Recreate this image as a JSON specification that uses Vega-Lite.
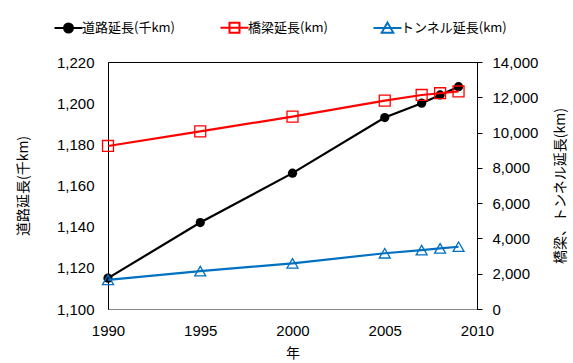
{
  "$schema": "https://vega.github.io/schema/vega-lite/v6.json",
  "width": 369,
  "height": 247,
  "autosize": {"type": "none"},
  "padding": {"left": 108, "top": 62, "right": 96, "bottom": 54},
  "background": "white",
  "config": {
    "view": {"stroke": "black", "strokeWidth": 1},
    "font": "Liberation Sans",
    "axis": {
      "labelFont": "Liberation Sans",
      "labelFontSize": 15,
      "labelColor": "black",
      "titleFont": "Noto Sans CJK JP",
      "titleFontSize": 14,
      "titleFontWeight": "normal",
      "titleColor": "#000000",
      "grid": false,
      "domainColor": "black"
    }
  },
  "data": {
    "values": [
      {"year": 1990, "series": "道路延長(千km)", "value": 1115},
      {"year": 1995, "series": "道路延長(千km)", "value": 1142},
      {"year": 2000, "series": "道路延長(千km)", "value": 1166},
      {"year": 2005, "series": "道路延長(千km)", "value": 1193},
      {"year": 2007, "series": "道路延長(千km)", "value": 1200},
      {"year": 2008, "series": "道路延長(千km)", "value": 1204},
      {"year": 2009, "series": "道路延長(千km)", "value": 1208},
      {"year": 1990, "series": "橋梁延長(km)", "value": 9240},
      {"year": 1995, "series": "橋梁延長(km)", "value": 10070},
      {"year": 2000, "series": "橋梁延長(km)", "value": 10900},
      {"year": 2005, "series": "橋梁延長(km)", "value": 11810},
      {"year": 2007, "series": "橋梁延長(km)", "value": 12130},
      {"year": 2008, "series": "橋梁延長(km)", "value": 12230},
      {"year": 2009, "series": "橋梁延長(km)", "value": 12330},
      {"year": 1990, "series": "トンネル延長(km)", "value": 1650},
      {"year": 1995, "series": "トンネル延長(km)", "value": 2150},
      {"year": 2000, "series": "トンネル延長(km)", "value": 2590},
      {"year": 2005, "series": "トンネル延長(km)", "value": 3160},
      {"year": 2007, "series": "トンネル延長(km)", "value": 3340},
      {"year": 2008, "series": "トンネル延長(km)", "value": 3440},
      {"year": 2009, "series": "トンネル延長(km)", "value": 3530}
    ]
  },
  "encoding": {
    "x": {
      "field": "year",
      "type": "quantitative",
      "scale": {"domain": [1990, 2010], "nice": false, "zero": false},
      "axis": {
        "values": [1990, 1995, 2000, 2005, 2010],
        "format": "d",
        "title": "年",
        "ticks": false,
        "labelPadding": 14,
        "titlePadding": 8,
        "domainColor": "#888888",
        "labelFlush": false
      }
    },
    "color": {
      "field": "series",
      "type": "nominal",
      "scale": {
        "domain": ["道路延長(千km)", "橋梁延長(km)", "トンネル延長(km)"],
        "range": ["#000000", "#FF0000", "#0070C0"]
      },
      "legend": {
        "title": null,
        "orient": "none",
        "direction": "horizontal",
        "legendX": -46,
        "legendY": -41,
        "labelFont": "Noto Sans CJK JP",
        "labelFontSize": 13,
        "labelColor": "black",
        "labelOffset": 7,
        "columnPadding": 40,
        "symbolSize": 100,
        "symbolStrokeWidth": 2,
        "symbolFillColor": "transparent",
        "encode": {
          "symbols": {
            "update": {
              "shape": {"signal": "datum.index === 0 ? 'M-2.8,0H2.8M-0.9,0A0.9,0.9 0 1,0 0.9,0A0.9,0.9 0 1,0 -0.9,0Z' : datum.index === 1 ? 'M-2.8,0H2.8M-1,-1H1V1H-1Z' : 'M-2.8,0H2.8M0,-1.05L1.15,0.95H-1.15Z'"},
              "stroke": {"signal": "scale('color', datum.value)"},
              "fill": {"signal": "datum.index === 0 ? '#000000' : '#ffffff'"},
              "fillOpacity": {"signal": "datum.index === 0 ? 1 : 0"},
              "strokeWidth": {"value": 2},
              "opacity": {"value": 1}
            }
          }
        }
      }
    }
  },
  "layer": [
    {
      "transform": [{"filter": "datum.series === '道路延長(千km)'"}],
      "encoding": {
        "y": {
          "field": "value",
          "type": "quantitative",
          "scale": {"domain": [1100, 1220], "nice": false, "zero": false},
          "axis": {
            "values": [1100, 1120, 1140, 1160, 1180, 1200, 1220],
            "title": "道路延長(千km)",
            "ticks": false,
            "labelPadding": 14,
            "titlePadding": 26
          }
        }
      },
      "layer": [
        {"mark": {"type": "line", "strokeWidth": 2.2}},
        {"mark": {"type": "point", "filled": true, "shape": "circle", "size": 85, "opacity": 1}}
      ]
    },
    {
      "transform": [{"filter": "datum.series !== '道路延長(千km)'"}],
      "encoding": {
        "y": {
          "field": "value",
          "type": "quantitative",
          "scale": {"domain": [0, 14000], "nice": false, "zero": true},
          "axis": {
            "orient": "right",
            "values": [0, 2000, 4000, 6000, 8000, 10000, 12000, 14000],
            "title": "橋梁、トンネル延長(km)",
            "titleAngle": -90,
            "tickSize": 5,
            "tickColor": "black",
            "labelPadding": 10,
            "titlePadding": 30
          }
        }
      },
      "layer": [
        {"mark": {"type": "line", "strokeWidth": 2.2}},
        {
          "mark": {"type": "point", "filled": false, "strokeWidth": 1.3, "size": 120, "opacity": 1},
          "encoding": {
            "shape": {
              "field": "series",
              "type": "nominal",
              "scale": {"domain": ["橋梁延長(km)", "トンネル延長(km)"], "range": ["square", "triangle-up"]},
              "legend": null
            }
          }
        }
      ]
    }
  ],
  "resolve": {"scale": {"y": "independent"}}
}
